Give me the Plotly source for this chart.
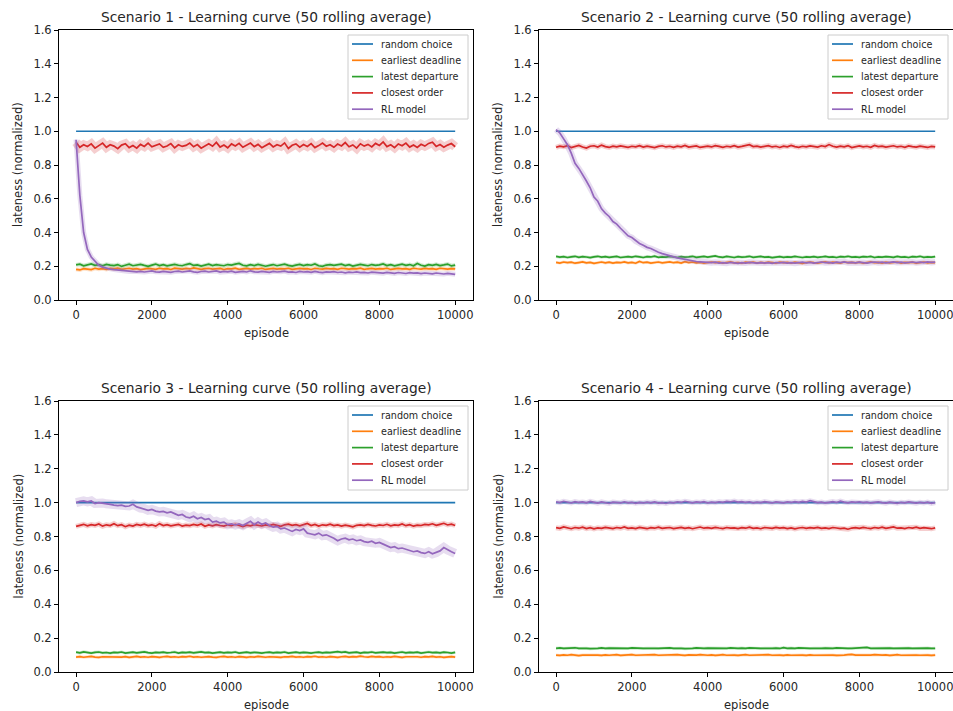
import plotly.graph_objects as go

# ---------------------------------------------------------------- data
EPISODES = list(range(0, 10001, 100))

SERIES_NAMES = ["random choice", "earliest deadline", "latest departure",
                "closest order", "RL model"]
COLORS = ["#1f77b4", "#ff7f0e", "#2ca02c", "#d62728", "#9467bd"]
X_TICKS = [0, 2000, 4000, 6000, 8000, 10000]
X_TICK_LABELS = ["0", "2000", "4000", "6000", "8000", "10000"]
Y_TICKS = [0.0, 0.2, 0.4, 0.6, 0.8, 1.0, 1.2, 1.4, 1.6]

RANDOM_CHOICE = [1.0] * len(EPISODES)

# Scenario 1
S1_EARLIEST = [
    0.182, 0.178, 0.186, 0.184, 0.18, 0.188, 0.183, 0.186, 0.181, 0.187,
    0.184, 0.189, 0.182, 0.185, 0.188, 0.183, 0.186, 0.18, 0.184, 0.187,
    0.185, 0.182, 0.188, 0.184, 0.186, 0.181, 0.189, 0.185, 0.183, 0.187,
    0.184, 0.19, 0.185, 0.182, 0.186, 0.188, 0.183, 0.185, 0.187, 0.181,
    0.186, 0.184, 0.189, 0.182, 0.185, 0.187, 0.183, 0.186, 0.184, 0.188,
    0.181, 0.185, 0.187, 0.183, 0.186, 0.184, 0.188, 0.182, 0.185, 0.187,
    0.184, 0.186, 0.181, 0.188, 0.185, 0.183, 0.187, 0.184, 0.186, 0.182,
    0.188, 0.185, 0.183, 0.186, 0.184, 0.189, 0.182, 0.185, 0.187, 0.183,
    0.186, 0.184, 0.188, 0.181, 0.185, 0.187, 0.184, 0.186, 0.182, 0.188,
    0.185, 0.183, 0.187, 0.184, 0.186, 0.182, 0.188, 0.185, 0.183, 0.186, 0.184]
S1_LATEST = [
    0.208, 0.212, 0.203, 0.21, 0.214, 0.205, 0.209, 0.202, 0.211, 0.207,
    0.204, 0.21, 0.199, 0.206, 0.212, 0.203, 0.208, 0.211, 0.205, 0.2,
    0.207, 0.213, 0.204, 0.209, 0.202, 0.208, 0.211, 0.206, 0.203, 0.21,
    0.215, 0.205, 0.208, 0.201, 0.207, 0.212, 0.204, 0.209, 0.206, 0.203,
    0.21, 0.207, 0.213, 0.217, 0.206, 0.202, 0.209, 0.204, 0.211, 0.207,
    0.2, 0.205, 0.21, 0.203, 0.208, 0.212, 0.205, 0.201, 0.207, 0.211,
    0.204, 0.209, 0.206, 0.214, 0.203, 0.199, 0.207, 0.21, 0.205, 0.208,
    0.212, 0.204, 0.209, 0.201, 0.206, 0.211, 0.207, 0.203, 0.21, 0.205,
    0.208, 0.214, 0.204, 0.209, 0.202, 0.207, 0.212, 0.205, 0.21, 0.203,
    0.216, 0.206, 0.201, 0.209, 0.205, 0.211, 0.204, 0.208, 0.213, 0.202, 0.207]
S1_CLOSEST = [
    0.935, 0.905, 0.92, 0.91, 0.925, 0.9, 0.915, 0.93, 0.905, 0.92,
    0.912, 0.897, 0.918, 0.926, 0.903, 0.915, 0.9, 0.922, 0.91, 0.93,
    0.908, 0.918, 0.925, 0.905, 0.913, 0.927, 0.902, 0.92, 0.91, 0.916,
    0.93, 0.908, 0.921, 0.9, 0.915, 0.926, 0.911, 0.934, 0.906, 0.918,
    0.902, 0.925, 0.913, 0.928, 0.905, 0.919, 0.93, 0.909, 0.922, 0.903,
    0.916, 0.928, 0.907, 0.92, 0.912, 0.931, 0.898, 0.917, 0.925, 0.906,
    0.921, 0.91, 0.927, 0.903, 0.915, 0.93, 0.911, 0.92, 0.905, 0.924,
    0.913, 0.933, 0.908, 0.919, 0.9, 0.926, 0.912, 0.922, 0.907, 0.928,
    0.916, 0.937, 0.909, 0.92, 0.903, 0.925, 0.914, 0.93, 0.906, 0.919,
    0.904, 0.923, 0.912, 0.928, 0.935, 0.91, 0.921, 0.905, 0.918, 0.927, 0.908]
S1_RL = [
    0.95, 0.62, 0.4, 0.3, 0.255, 0.228, 0.206, 0.195, 0.188, 0.183,
    0.18, 0.178, 0.174, 0.172, 0.169, 0.171, 0.167, 0.17, 0.166, 0.169,
    0.172, 0.167, 0.165, 0.17, 0.168, 0.164, 0.169, 0.171, 0.166, 0.168,
    0.173, 0.167, 0.164, 0.169, 0.171, 0.166, 0.168, 0.172, 0.165, 0.169,
    0.167, 0.171, 0.164, 0.168, 0.17, 0.166, 0.173, 0.167, 0.165, 0.169,
    0.168, 0.164, 0.17, 0.166, 0.168, 0.171, 0.165, 0.167, 0.163, 0.169,
    0.166, 0.168, 0.164, 0.17, 0.165, 0.162, 0.167, 0.165, 0.168, 0.163,
    0.166, 0.161, 0.165, 0.163, 0.167, 0.162, 0.164, 0.16, 0.165, 0.162,
    0.163, 0.159, 0.164, 0.161, 0.158, 0.163, 0.16, 0.157, 0.162, 0.159,
    0.161, 0.156, 0.16, 0.158, 0.155, 0.16, 0.157, 0.154, 0.158, 0.155, 0.152]

# Scenario 2
S2_EARLIEST = [
    0.223, 0.219, 0.225, 0.221, 0.224, 0.218, 0.222, 0.226, 0.22, 0.223,
    0.217, 0.222, 0.225, 0.22, 0.224, 0.219, 0.223, 0.221, 0.226, 0.22,
    0.223, 0.218, 0.228, 0.221, 0.224, 0.219, 0.222, 0.225, 0.22, 0.223,
    0.226, 0.221, 0.224, 0.219, 0.227, 0.222, 0.225, 0.22, 0.223, 0.218,
    0.222, 0.225, 0.221, 0.224, 0.219, 0.223, 0.226, 0.22, 0.222, 0.218,
    0.224, 0.221, 0.225, 0.219, 0.223, 0.22, 0.224, 0.222, 0.218, 0.225,
    0.221, 0.223, 0.219, 0.224, 0.22, 0.217, 0.222, 0.225, 0.221, 0.219,
    0.223, 0.226, 0.22, 0.224, 0.222, 0.219, 0.225, 0.221, 0.223, 0.22,
    0.224, 0.218, 0.222, 0.226, 0.221, 0.223, 0.219, 0.224, 0.22, 0.222,
    0.225, 0.219, 0.223, 0.221, 0.224, 0.218, 0.222, 0.225, 0.22, 0.223, 0.221]
S2_LATEST = [
    0.258, 0.254, 0.257, 0.252, 0.256, 0.259, 0.253, 0.257, 0.255, 0.251,
    0.256, 0.259, 0.254, 0.257, 0.253, 0.256, 0.258, 0.252, 0.255, 0.257,
    0.254, 0.259, 0.256, 0.252, 0.257, 0.255, 0.26, 0.253, 0.256, 0.254,
    0.258, 0.255, 0.252, 0.257, 0.254, 0.256, 0.259, 0.253, 0.255, 0.258,
    0.254, 0.257, 0.261, 0.255, 0.253, 0.258, 0.256, 0.252, 0.257, 0.254,
    0.256, 0.259, 0.253, 0.255, 0.258, 0.254, 0.256, 0.251, 0.255, 0.257,
    0.253, 0.256, 0.254, 0.258, 0.255, 0.252, 0.256, 0.254, 0.257, 0.253,
    0.255, 0.258, 0.254, 0.256, 0.252, 0.257, 0.255, 0.259, 0.254, 0.256,
    0.253, 0.257, 0.255, 0.258, 0.252, 0.256, 0.254, 0.257, 0.255, 0.253,
    0.258, 0.254, 0.256, 0.252, 0.257, 0.255, 0.259, 0.253, 0.256, 0.254, 0.257]
S2_CLOSEST = [
    0.905, 0.912, 0.908, 0.915, 0.903, 0.91, 0.916, 0.907, 0.9, 0.911,
    0.914, 0.906, 0.918, 0.909, 0.904, 0.912, 0.907, 0.913, 0.91, 0.905,
    0.911, 0.908, 0.915, 0.906, 0.912, 0.909, 0.903, 0.91, 0.914, 0.907,
    0.911, 0.905, 0.912, 0.908, 0.916, 0.906, 0.91, 0.913, 0.904, 0.909,
    0.912, 0.907, 0.915, 0.91, 0.905, 0.911, 0.908, 0.914, 0.906, 0.91,
    0.913, 0.92, 0.909, 0.912, 0.906, 0.91, 0.915, 0.907, 0.911, 0.904,
    0.912, 0.908, 0.916, 0.909, 0.905, 0.911, 0.907, 0.913, 0.91, 0.906,
    0.914, 0.909, 0.921, 0.911, 0.906, 0.912, 0.908, 0.915, 0.903, 0.91,
    0.913, 0.907, 0.911, 0.905, 0.916, 0.909, 0.912, 0.906, 0.91, 0.914,
    0.907, 0.911, 0.905, 0.913, 0.909, 0.906, 0.912, 0.908, 0.904, 0.91, 0.907]
S2_RL = [
    1.01, 0.99, 0.955, 0.92, 0.87, 0.81, 0.78, 0.745, 0.705, 0.665,
    0.61, 0.585, 0.54, 0.515, 0.495, 0.465, 0.45, 0.425, 0.405, 0.38,
    0.37, 0.35, 0.335, 0.325, 0.312, 0.305, 0.292, 0.283, 0.275, 0.268,
    0.26, 0.255, 0.25, 0.245, 0.24, 0.237, 0.232, 0.228, 0.226, 0.224,
    0.222,
    0.221, 0.224, 0.219, 0.222, 0.218, 0.223, 0.22, 0.217, 0.221, 0.219,
    0.223, 0.22, 0.218, 0.222, 0.219, 0.221, 0.217, 0.222, 0.22, 0.223,
    0.219, 0.221, 0.218, 0.222, 0.224, 0.22, 0.223, 0.219, 0.222, 0.225,
    0.221, 0.223, 0.219, 0.224, 0.222, 0.226, 0.221, 0.223, 0.22, 0.224,
    0.222, 0.219, 0.223, 0.225, 0.221, 0.224, 0.22, 0.223, 0.226, 0.222,
    0.224, 0.22, 0.223, 0.225, 0.221, 0.224, 0.222, 0.226, 0.223, 0.225]

# Scenario 3
S3_EARLIEST = [
    0.088, 0.091, 0.087, 0.09, 0.092, 0.088, 0.086, 0.09, 0.089, 0.092,
    0.087, 0.09, 0.088, 0.091, 0.086, 0.089, 0.092, 0.088, 0.09, 0.087,
    0.091, 0.089, 0.086, 0.09, 0.092, 0.088, 0.09, 0.087, 0.091, 0.089,
    0.093, 0.088, 0.09, 0.087, 0.089, 0.091, 0.088, 0.086, 0.09, 0.092,
    0.088, 0.09, 0.087, 0.091, 0.089, 0.086, 0.09, 0.088, 0.092, 0.089,
    0.087, 0.09, 0.091, 0.088, 0.086, 0.09, 0.089, 0.092, 0.088, 0.09,
    0.087, 0.091, 0.089, 0.093, 0.088, 0.09, 0.087, 0.091, 0.089, 0.086,
    0.09, 0.092, 0.088, 0.091, 0.089, 0.094, 0.09, 0.088, 0.092, 0.089,
    0.091, 0.087, 0.09, 0.088, 0.092, 0.089, 0.086, 0.09, 0.091, 0.088,
    0.09, 0.087, 0.091, 0.089, 0.092, 0.088, 0.09, 0.086, 0.089, 0.091, 0.088]
S3_LATEST = [
    0.117, 0.113, 0.119, 0.115, 0.112, 0.116, 0.118, 0.113, 0.115, 0.111,
    0.116, 0.114, 0.118, 0.112, 0.115, 0.117, 0.113, 0.116, 0.119, 0.114,
    0.112, 0.116, 0.114, 0.117, 0.113, 0.115, 0.118, 0.112, 0.116, 0.114,
    0.117, 0.113, 0.115, 0.119, 0.114, 0.116, 0.112, 0.115, 0.117, 0.113,
    0.116, 0.114, 0.118, 0.112, 0.115, 0.117, 0.113, 0.116, 0.114, 0.112,
    0.115, 0.117, 0.113, 0.116, 0.114, 0.118, 0.112, 0.115, 0.117, 0.113,
    0.116, 0.114, 0.112, 0.115, 0.117, 0.113, 0.116, 0.114, 0.118, 0.12,
    0.116, 0.119, 0.113, 0.115, 0.117, 0.112, 0.116, 0.114, 0.118, 0.113,
    0.115, 0.117, 0.114, 0.116, 0.112, 0.115, 0.118, 0.113, 0.116, 0.114,
    0.117, 0.112, 0.115, 0.118, 0.114, 0.116, 0.113, 0.117, 0.115, 0.112, 0.116]
S3_CLOSEST = [
    0.86, 0.868, 0.872, 0.863, 0.87, 0.866, 0.874, 0.861, 0.869, 0.865,
    0.876, 0.864, 0.87, 0.858, 0.867, 0.862, 0.871, 0.866, 0.873, 0.864,
    0.869, 0.861, 0.876, 0.865, 0.87, 0.863, 0.868, 0.872, 0.862, 0.867,
    0.864, 0.871, 0.866, 0.874, 0.86, 0.868, 0.863, 0.87, 0.865, 0.861,
    0.869, 0.864, 0.872, 0.866, 0.858, 0.867, 0.863, 0.87, 0.865, 0.862,
    0.868, 0.864, 0.871, 0.866, 0.86, 0.869, 0.873, 0.866, 0.87, 0.863,
    0.868, 0.877, 0.865, 0.871, 0.862, 0.869, 0.866, 0.873, 0.864, 0.868,
    0.861, 0.867, 0.863, 0.857, 0.866, 0.869, 0.864, 0.871, 0.866, 0.862,
    0.868, 0.865, 0.872, 0.863, 0.869, 0.866, 0.874, 0.864, 0.87, 0.861,
    0.867, 0.865, 0.871, 0.869, 0.875, 0.866, 0.872, 0.878, 0.868, 0.873, 0.865]
S3_RL = [
    1.0, 1.008, 1.01, 1.005, 1.01, 0.995, 1.0, 0.998, 0.993, 0.99,
    0.985, 0.982, 0.985, 0.978, 0.98, 0.99, 0.975, 0.968, 0.965, 0.955,
    0.96, 0.95, 0.945, 0.948, 0.94, 0.945, 0.935, 0.925, 0.93, 0.915,
    0.91, 0.92, 0.905, 0.912, 0.9, 0.905, 0.885, 0.89, 0.88, 0.885,
    0.87, 0.875, 0.868, 0.875, 0.865, 0.878, 0.89, 0.87, 0.885, 0.872,
    0.88, 0.865, 0.855, 0.86, 0.845, 0.85, 0.838, 0.83, 0.842, 0.835,
    0.845, 0.82, 0.815, 0.81, 0.82, 0.805, 0.81, 0.8, 0.79, 0.775,
    0.785, 0.79, 0.78, 0.785, 0.775, 0.78, 0.77, 0.765, 0.772, 0.76,
    0.765, 0.755, 0.745, 0.735, 0.74, 0.728, 0.732, 0.725, 0.72, 0.71,
    0.715, 0.705, 0.7, 0.71, 0.698, 0.705, 0.715, 0.735, 0.72, 0.71, 0.7]

# Scenario 4
S4_EARLIEST = [
    0.1, 0.098, 0.101, 0.099, 0.102, 0.1, 0.097, 0.1, 0.101, 0.099,
    0.102, 0.1, 0.098, 0.101, 0.099, 0.1, 0.102, 0.098, 0.1, 0.101,
    0.103, 0.099, 0.1, 0.098, 0.101, 0.1, 0.102, 0.099, 0.1, 0.098,
    0.101, 0.099, 0.102, 0.1, 0.098, 0.101, 0.099, 0.1, 0.102, 0.1,
    0.099, 0.101, 0.098, 0.1, 0.102, 0.099, 0.101, 0.1, 0.098, 0.1,
    0.102, 0.099, 0.1, 0.101, 0.098, 0.1, 0.102, 0.099, 0.101, 0.1,
    0.098, 0.101, 0.099, 0.1, 0.102, 0.1, 0.098, 0.101, 0.099, 0.1,
    0.101, 0.099, 0.102, 0.1, 0.098, 0.101, 0.1, 0.102, 0.104, 0.1,
    0.099, 0.101, 0.098, 0.1, 0.102, 0.099, 0.1, 0.101, 0.098, 0.1,
    0.102, 0.099, 0.1, 0.101, 0.098, 0.1, 0.099, 0.101, 0.1, 0.098, 0.1]
S4_LATEST = [
    0.14, 0.142, 0.139, 0.141, 0.14, 0.143, 0.139, 0.141, 0.14, 0.138,
    0.141, 0.14, 0.142, 0.139, 0.141, 0.14, 0.143, 0.14, 0.141, 0.139,
    0.142, 0.14, 0.141, 0.139, 0.14, 0.142, 0.14, 0.139, 0.141, 0.14,
    0.142, 0.139, 0.141, 0.14, 0.138, 0.141, 0.14, 0.142, 0.139, 0.14,
    0.141, 0.14, 0.143, 0.139, 0.141, 0.14, 0.142, 0.139, 0.14, 0.141,
    0.139, 0.142, 0.14, 0.141, 0.139, 0.14, 0.142, 0.14, 0.141, 0.139,
    0.144, 0.14, 0.141, 0.139, 0.142, 0.14, 0.141, 0.139, 0.14, 0.142,
    0.14, 0.141, 0.139, 0.14, 0.142, 0.14, 0.141, 0.139, 0.14, 0.141,
    0.139, 0.142, 0.145, 0.14, 0.141, 0.139, 0.142, 0.14, 0.141, 0.139,
    0.14, 0.142, 0.14, 0.141, 0.139, 0.14, 0.142, 0.14, 0.141, 0.139, 0.14]
S4_CLOSEST = [
    0.852, 0.848, 0.857, 0.85, 0.846, 0.853, 0.849, 0.855, 0.847, 0.852,
    0.845, 0.851, 0.848, 0.854, 0.85, 0.847, 0.853, 0.849, 0.856, 0.848,
    0.851, 0.847, 0.854, 0.85, 0.846, 0.852, 0.849, 0.855, 0.848, 0.851,
    0.853, 0.847, 0.85, 0.854, 0.848, 0.852, 0.846, 0.851, 0.856, 0.849,
    0.852, 0.848, 0.854, 0.85, 0.847, 0.853, 0.849, 0.851, 0.847, 0.852,
    0.849, 0.855, 0.848, 0.851, 0.846, 0.853, 0.85, 0.848, 0.854, 0.849,
    0.852, 0.847, 0.851, 0.845, 0.85, 0.853, 0.848, 0.852, 0.849, 0.854,
    0.848, 0.851, 0.847, 0.853, 0.85, 0.846, 0.849, 0.843, 0.85, 0.852,
    0.848, 0.854, 0.85, 0.847, 0.853, 0.849, 0.855, 0.848, 0.852, 0.857,
    0.849, 0.851, 0.847, 0.853, 0.85, 0.855, 0.848, 0.852, 0.849, 0.846, 0.851]
S4_RL = [
    1.005, 1.0, 1.008, 1.002, 0.998, 1.006, 1.001, 1.004, 0.999, 1.007,
    1.002, 0.997, 1.004, 1.0, 0.995, 1.003, 1.0, 0.998, 1.005, 0.999,
    1.002, 0.996, 1.001, 0.998, 1.003, 0.999, 1.004, 0.997, 1.0, 0.995,
    1.002, 0.999, 1.005, 1.001, 1.008, 1.003, 0.999, 1.004, 1.001, 1.006,
    0.998, 1.003, 1.0, 1.005, 1.002, 1.007, 1.004, 1.009, 1.003, 1.006,
    1.001, 1.005, 0.999, 1.003, 1.0, 1.006, 1.002, 0.998, 1.004, 1.001,
    0.999, 1.004, 1.001, 1.006, 1.002, 1.007, 1.003, 1.011, 1.004, 1.0,
    1.003, 0.998, 1.002, 1.006, 1.001, 1.009, 1.003, 0.999, 1.004, 1.001,
    1.005, 1.0, 1.003, 0.998, 1.002, 1.005, 1.0, 0.997, 1.003, 1.0,
    0.996, 1.002, 0.999, 1.004, 1.0, 0.997, 1.002, 0.998, 1.003, 0.996, 1.001]

SCENARIOS = [
    ("Scenario 1 - Learning curve (50 rolling average)",
     [RANDOM_CHOICE, S1_EARLIEST, S1_LATEST, S1_CLOSEST, S1_RL]),
    ("Scenario 2 - Learning curve (50 rolling average)",
     [RANDOM_CHOICE, S2_EARLIEST, S2_LATEST, S2_CLOSEST, S2_RL]),
    ("Scenario 3 - Learning curve (50 rolling average)",
     [RANDOM_CHOICE, S3_EARLIEST, S3_LATEST, S3_CLOSEST, S3_RL]),
    ("Scenario 4 - Learning curve (50 rolling average)",
     [RANDOM_CHOICE, S4_EARLIEST, S4_LATEST, S4_CLOSEST, S4_RL]),
]

# ---------------------------------------------------------------- layout
W, H = 953, 711
FONT = "DejaVu Sans"
TEXT = "#262626"

# pixel boxes of the four axes: (left, right, top, bottom)
BOXES = [(59, 473, 30, 300), (539, 953, 30, 300),
         (59, 473, 401, 672), (539, 953, 401, 672)]

# width of the faint spread band drawn under each line, per scenario/series
BAND_WIDTH = [
    [3, 4, 4, 9, 5],
    [3, 3, 3, 5, 6],
    [3, 3, 3, 5, 9],
    [3, 3, 3, 5, 5],
]


def px_x(v):
    return v / W


def px_y(v):
    return 1 - v / H


fig = go.Figure()
annotations = []
shapes = []
layout = {}

for i, (title, series) in enumerate(SCENARIOS):
    n = i + 1
    xref = "x" if n == 1 else f"x{n}"
    yref = "y" if n == 1 else f"y{n}"
    left, right, top, bottom = BOXES[i]

    for k, (name, color, values) in enumerate(zip(SERIES_NAMES, COLORS, series)):
        if k > 0:
            fig.add_trace(go.Scatter(
                x=EPISODES, y=values, mode="lines", xaxis=xref, yaxis=yref,
                line=dict(color=color, width=BAND_WIDTH[i][k]),
                opacity=0.22, showlegend=False, hoverinfo="skip"))
        fig.add_trace(go.Scatter(
            x=EPISODES, y=values, mode="lines", name=name,
            xaxis=xref, yaxis=yref, showlegend=False,
            line=dict(color=color, width=1.7)))

    axis_common = dict(
        showline=True, linecolor="black", linewidth=1, mirror=True,
        ticks="outside", ticklen=4, tickwidth=1, tickcolor="black",
        showgrid=False, zeroline=False, automargin=False,
        ticklabeloverflow="allow",
        tickfont=dict(family=FONT, size=11.5, color=TEXT))
    layout["xaxis" if n == 1 else f"xaxis{n}"] = dict(
        axis_common, domain=[px_x(left), px_x(right)], anchor=yref,
        range=[-450, 10470], tickvals=X_TICKS, ticktext=X_TICK_LABELS)
    layout["yaxis" if n == 1 else f"yaxis{n}"] = dict(
        axis_common, domain=[px_y(bottom), px_y(top)], anchor=xref,
        range=[0, 1.6], tickvals=Y_TICKS, tickformat=".1f")

    # legend frame, handles and labels in the upper right of each panel
    lx0 = left + 289
    lx1 = min(right - 5, 948)
    shapes.append(dict(
        type="rect", xref="paper", yref="paper",
        x0=px_x(lx0), x1=px_x(lx1), y0=px_y(top + 89), y1=px_y(top + 5),
        line=dict(color="#cccccc", width=1),
        fillcolor="rgba(255,255,255,0.8)", layer="above"))
    for k, (name, color) in enumerate(zip(SERIES_NAMES, COLORS)):
        row_y = top + 14 + 16.3 * k
        shapes.append(dict(
            type="line", xref="paper", yref="paper",
            x0=px_x(left + 293), x1=px_x(left + 314),
            y0=px_y(row_y), y1=px_y(row_y),
            line=dict(color=color, width=1.7), layer="above"))
        annotations.append(dict(
            text=name, x=px_x(left + 320), y=px_y(row_y),
            xref="paper", yref="paper", xanchor="left", yanchor="middle",
            showarrow=False, font=dict(family=FONT, size=9.6, color=TEXT)))

    cx = px_x((left + right) / 2)
    annotations.append(dict(
        text=title, x=cx, y=px_y(top - 13), xref="paper", yref="paper",
        xanchor="center", yanchor="middle", showarrow=False,
        font=dict(family=FONT, size=13.8, color=TEXT)))
    annotations.append(dict(
        text="episode", x=cx, y=px_y(bottom + 33), xref="paper",
        yref="paper", xanchor="center", yanchor="middle", showarrow=False,
        font=dict(family=FONT, size=11.5, color=TEXT)))
    annotations.append(dict(
        text="lateness (normalized)", x=px_x(left - 41),
        y=px_y((top + bottom) / 2), xref="paper", yref="paper",
        xanchor="center", yanchor="middle", textangle=-90, showarrow=False,
        font=dict(family=FONT, size=11.5, color=TEXT)))

fig.update_layout(
    width=W, height=H,
    margin=dict(l=0, r=0, t=0, b=0, autoexpand=False),
    paper_bgcolor="white", plot_bgcolor="white",
    font=dict(family=FONT, color=TEXT), showlegend=False,
    annotations=annotations, shapes=shapes, **layout)

fig.write_html("out.html")
